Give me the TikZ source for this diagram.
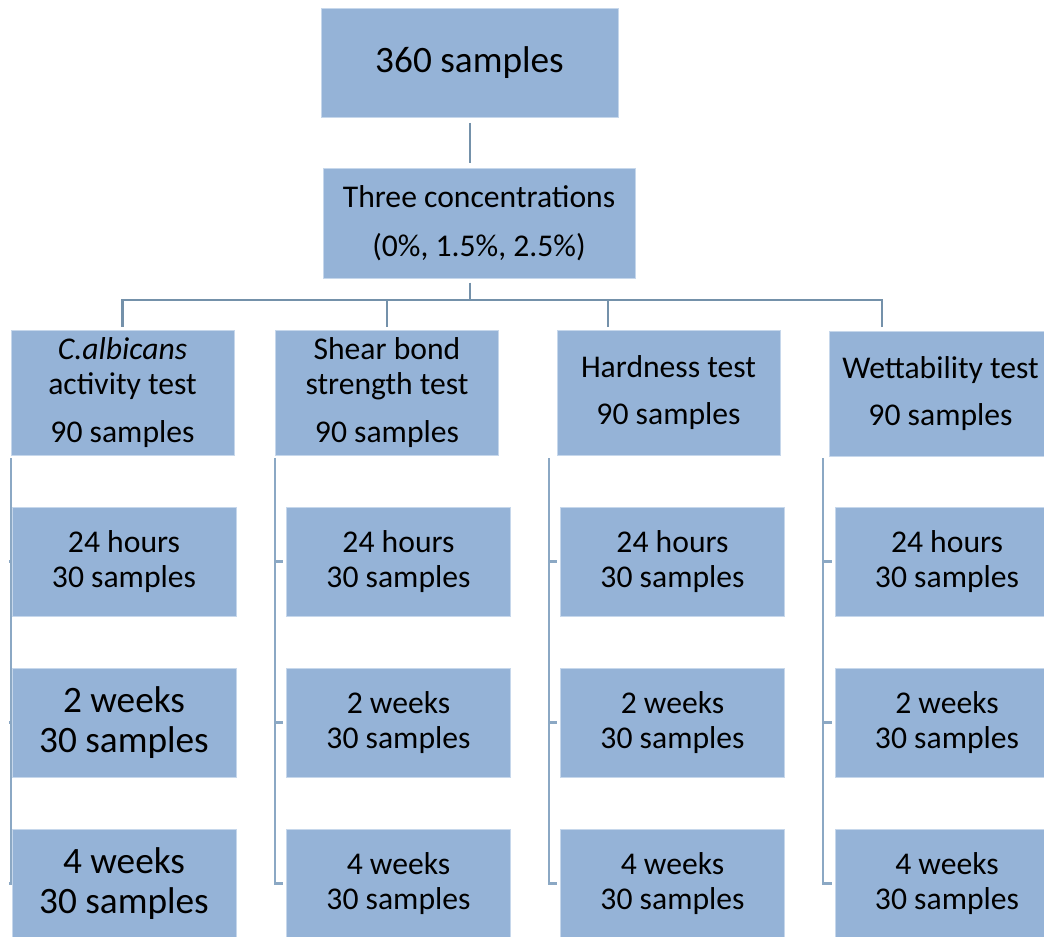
\documentclass[tikz,border=0pt]{standalone}
\usepackage{fontspec}
\setmainfont{Carlito}
\usepackage{tikz}
\usetikzlibrary{positioning}
\definecolor{boxblue}{HTML}{95B3D7}
\definecolor{boxedge}{HTML}{C6D7EB}
\definecolor{treeline}{HTML}{7491AA}
\definecolor{brackline}{HTML}{8BA8C4}
\pgfdeclarelayer{background}
\pgfsetlayers{background,main}

\begin{document}
\begin{tikzpicture}[x=0.025cm,y=-0.025cm,
  box/.style={rectangle,fill=boxblue,draw=boxedge,line width=0.5pt,inner sep=0pt,
    align=center,font=\fontsize{22.5}{25}\selectfont},
  topbox/.style={box,minimum width=7.425cm,minimum height=2.725cm},
  testbox/.style={box,minimum width=5.575cm,minimum height=3.125cm},
  timebox/.style={box,minimum width=5.6cm,minimum height=2.725cm},
  big/.style={font=\fontsize{26.5}{29}\selectfont},
  link/.style={treeline,line width=2pt},
  bracket/.style={brackline,line width=2pt}]
  \useasboundingbox (0,0) rectangle (1044,936);

  % top of the tree
  \node[topbox,big] (total) at (469.5,62.5) {360 samples};
  \node[topbox,minimum width=7.8cm,minimum height=2.75cm] (conc) at (479,223)
    {Three concentrations\\[10pt](0\%, 1.5\%, 2.5\%)};
  \coordinate (bus) at (470,300);
  \coordinate (dropC) at (608,327);
  \coordinate (dropD) at (882,327);

  % the four tests
  \node[testbox] (A) at (122.5,392.5) {\textit{C.albicans}\\activity test\\[9pt]90 samples};
  \node[testbox] (B) at (387,392.5) {Shear bond\\strength test\\[9pt]90 samples};
  \node[testbox] (C) at (668.5,392.5) {Hardness test\\[9pt]90 samples};
  \node[testbox] (D) at (940.5,393.5) {Wettability test\\[9pt]90 samples};

  \foreach \c/\lx in {A/11,B/275,C/549,D/823}
    \coordinate (\c top) at (\lx,458);

  % times per test
  \node[timebox] (A1) at (124,561.5) {24 hours\\30 samples};
  \node[timebox,big] (A2) at (124,722.5) {2 weeks\\30 samples};
  \node[timebox,big] (A3) at (124,883.5) {4 weeks\\30 samples};
  \foreach \c/\x in {B/398.5,C/672.5,D/947}{
    \node[timebox] (\c1) at (\x,561.5) {24 hours\\30 samples};
    \node[timebox] (\c2) at (\x,722.5) {2 weeks\\30 samples};
    \node[timebox] (\c3) at (\x,883.5) {4 weeks\\30 samples};
  }

  % brackets go under the boxes
  \begin{pgfonlayer}{background}
  \foreach \c in {A,B,C,D}{
    \draw[bracket] (\c top) |- ([xshift=-0.075cm]\c3.west);
    \draw[bracket] (\c1.west -| \c top) -- ([xshift=-0.075cm]\c1.west);
    \draw[bracket] (\c2.west -| \c top) -- ([xshift=-0.075cm]\c2.west);
  }
  \end{pgfonlayer}

  % connectors
  \draw[link,shorten <=4pt,shorten >=3pt] (total.south -| bus) -- (conc.north -| bus);
  \draw[link,shorten <=3pt] (conc.south -| bus) -- (bus);
  \draw[link,shorten <=2pt] (A.north) |- (bus);
  \draw[link,shorten <=2pt] (B.north) |- (bus);
  \draw[link] (dropC) |- (bus);
  \draw[link] (dropD) |- (bus);
\end{tikzpicture}
\end{document}
